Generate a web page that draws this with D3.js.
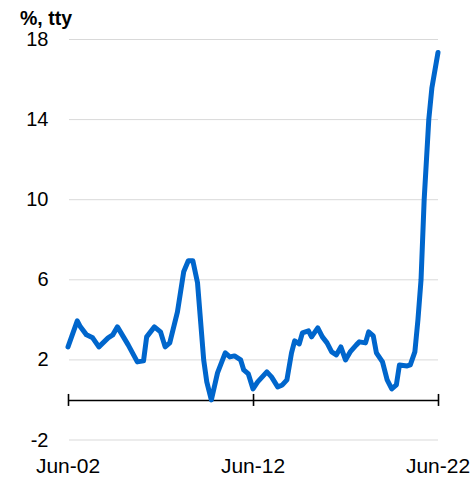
<!DOCTYPE html>
<html>
<head>
<meta charset="utf-8">
<script src="https://cdn.jsdelivr.net/npm/d3@7"></script>
<style>
  body { margin: 0; background: #fff; }
  text { font-family: "Liberation Sans", Arial, sans-serif; }
</style>
</head>
<body>
<svg id="chart" width="473" height="477"></svg>
<script>
// months after Jun-2002
const monthOffsets = [0, 6, 8, 12, 16, 20, 26, 29, 32, 39, 45, 49, 51, 56, 60, 63, 66, 71, 75, 78,
    81, 84, 88, 90, 93, 97, 102, 105, 108, 112, 114, 117, 120, 123, 129, 132, 136, 139, 142, 145,
    147, 150, 152, 156, 158, 162, 165, 168, 171, 174, 177, 180, 183, 187, 189, 193, 195, 198, 200, 204,
    207, 210, 213, 215, 220, 222, 225, 227, 229, 231, 234, 236, 240];
const values = [2.65, 3.95, 3.65, 3.25, 3.1, 2.65, 3.1, 3.25, 3.65, 2.75, 1.9, 1.95, 3.15, 3.65, 3.4, 2.65, 2.85, 4.4, 6.4, 6.95,
    6.95, 5.85, 2.0, 0.9, 0.0, 1.35, 2.35, 2.15, 2.2, 2.0, 1.5, 1.3, 0.55, 0.9, 1.4, 1.15, 0.65, 0.75, 1.0, 2.35,
    2.95, 2.8, 3.35, 3.45, 3.15, 3.6, 3.15, 2.85, 2.4, 2.25, 2.65, 2.0, 2.4, 2.75, 2.9, 2.85, 3.4, 3.2, 2.35, 1.9,
    1.0, 0.55, 0.75, 1.75, 1.7, 1.75, 2.4, 4.0, 6.0, 10.0, 14.0, 15.6, 17.35];
const yTicks = [-2, 2, 6, 10, 14, 18];
const xTicks = [new Date(2002, 5, 1), new Date(2012, 5, 1), new Date(2022, 5, 1)];
const xTickLabels = ['Jun-02', 'Jun-12', 'Jun-22'];
const unitLabel = '%, tty';

const svg = d3.select('#chart');
const start = new Date(2002, 5, 1);
const data = monthOffsets.map((m, i) => ({ date: d3.timeMonth.offset(start, m), v: values[i] }));

const x = d3.scaleTime().domain([xTicks[0], xTicks[2]]).range([68, 438]);
const y = d3.scaleLinear().domain([-2, 18]).range([440, 39.5]);

// gridlines
svg.append('g').selectAll('line').data(yTicks).join('line')
    .attr('x1', 69).attr('x2', 438)
    .attr('y1', d => y(d)).attr('y2', d => y(d))
    .attr('stroke', '#d9d9d9').attr('stroke-width', 1);

// y labels
svg.append('g').selectAll('text').data(yTicks).join('text')
    .attr('x', 48.5).attr('y', d => y(d) + 6.5)
    .attr('text-anchor', 'end')
    .attr('font-size', 20).attr('fill', '#000')
    .text(d => d);

svg.append('text').attr('x', 20).attr('y', 25)
    .attr('font-size', 19.5).attr('font-weight', 'bold')
    .text(unitLabel);

// x axis at zero
const axis = svg.append('g').attr('transform', 'translate(0,' + y(0) + ')')
    .call(d3.axisBottom(x).tickValues(xTicks).tickFormat('').tickSizeInner(6).tickSizeOuter(0));
axis.select('.domain').attr('stroke', '#000').attr('stroke-width', 1.6);
axis.selectAll('.tick line').attr('y1', -6).attr('stroke', '#000').attr('stroke-width', 1.6);

svg.append('g').selectAll('text').data(xTicks).join('text')
    .attr('x', d => x(d)).attr('y', 473)
    .attr('text-anchor', 'middle')
    .attr('font-size', 21)
    .text((d, i) => xTickLabels[i]);

// series
const line = d3.line().x(d => x(d.date)).y(d => y(d.v));
svg.append('path').datum(data)
    .attr('d', line)
    .attr('fill', 'none')
    .attr('stroke', '#0066cc')
    .attr('stroke-width', 5)
    .attr('stroke-linejoin', 'round')
    .attr('stroke-linecap', 'round');
</script>
</body>
</html>
